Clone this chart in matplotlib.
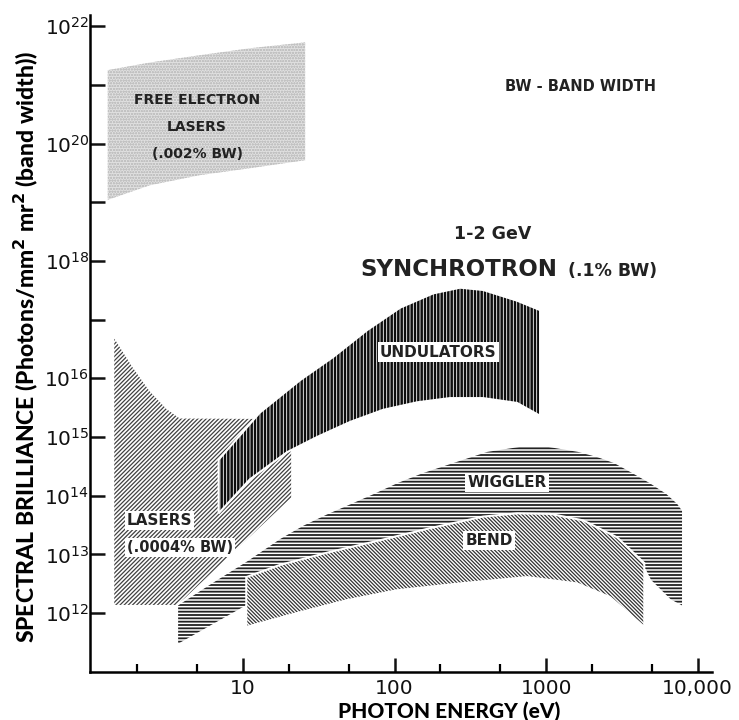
import numpy as np
import matplotlib
matplotlib.use("Agg")
import matplotlib.pyplot as plt
from matplotlib.patches import Polygon
from matplotlib.ticker import FixedLocator, FixedFormatter, NullFormatter

# ---- data: photon energy (eV) / spectral brilliance ----
fel_top_e = [1.28, 2.43, 5.2, 11.1, 25.7]
fel_top_b = [1.78e21, 2.4e21, 3.2e21, 4.2e21, 5.3e21]
fel_bot_e = [1.28, 2.43, 5.2, 11.1, 25.7]
fel_bot_b = [1.1e19, 1.95e19, 2.9e19, 3.8e19, 5.2e19]

las_top_e = [1.39, 1.88, 2.43, 3.15, 3.84, 21.1]
las_top_b = [5.5e16, 1.6e16, 6.3e15, 3.1e15, 2.15e15, 2.1e15]
las_bot_e = [1.39, 3.72, 21.1]
las_bot_b = [1.32e12, 1.32e12, 9.1e13]

und_top_e = [6.9, 12.9, 23.8, 39.3, 65.8, 109, 180, 271, 384, 644, 913]
und_top_b = [4.1e14, 2.6e15, 9.3e15, 2.3e16, 6.6e16, 1.6e17, 2.8e17, 3.5e17, 3.2e17, 2.1e17, 1.45e17]
und_bot_e = [6.9, 11.1, 19.5, 30.8, 50.8, 84, 141, 232, 384, 644, 913]
und_bot_b = [5.0e13, 1.9e14, 5.5e14, 1.0e15, 1.8e15, 2.9e15, 3.9e15, 4.6e15, 4.6e15, 3.8e15, 2.3e15]

wig_top_e = [3.67, 6.06, 10.6, 17.5, 24.9, 35.8, 50.8, 72.1, 104, 152, 240, 408, 705, 985,
             1630, 2200, 2850, 3750, 4860, 6290, 7430, 8020]
wig_top_b = [1.38e12, 3.2e12, 7.9e12, 1.9e13, 3.2e13, 5.0e13, 7.4e13, 1.1e14, 1.7e14, 2.5e14,
             3.7e14, 5.8e14, 7.2e14, 7.2e14, 5.8e14, 4.7e14, 3.7e14, 2.5e14, 1.7e14, 1.1e14,
             7.4e13, 5.6e13]
wig_bot_e = [3.67, 10.6, 23.8, 232, 2270, 4500, 4860, 6580, 8020]
wig_bot_b = [2.8e11, 1.32e12, 2.45e12, 5.4e12, 6.6e12, 5.4e12, 3.6e12, 1.66e12, 1.26e12]

bend_top_e = [10.5, 17.5, 37.5, 80.2, 172, 384, 644, 1063, 1755, 2940, 4450]
bend_top_b = [4.1e12, 6.6e12, 1.1e13, 1.74e13, 2.8e13, 4.4e13, 5.0e13, 4.9e13, 3.8e13, 1.95e13, 7.1e12]
bend_bot_e = [10.5, 22.7, 48.6, 104, 271, 749, 1600, 2650, 4450]
bend_bot_b = [5.8e11, 1.0e12, 1.66e12, 2.45e12, 3.2e12, 4.1e12, 3.2e12, 1.86e12, 5.8e11]

x_major = [10, 100, 1000, 10000]
x_major_labels = ["10", "100", "1000", "10,000"]
x_minor = [2, 5, 20, 50, 200, 500, 2000, 5000]
y_ticks = [1e12, 1e13, 1e14, 1e15, 1e16, 1e17, 1e18, 1e19, 1e20, 1e21, 1e22]
y_labels = [r"$10^{12}$", r"$10^{13}$", r"$10^{14}$", r"$10^{15}$", r"$10^{16}$", "",
            r"$10^{18}$", "", r"$10^{20}$", "", r"$10^{22}$"]

# ---- figure ----
plt.rcParams["mathtext.fontset"] = "dejavusans"
fig = plt.figure(figsize=(7.39, 7.2), dpi=100)
ax = fig.add_axes([90 / 739, 48 / 720, 622 / 739, 657 / 720])
ax.set_xscale("log")
ax.set_yscale("log")
ax.set_xlim(0.977, 12450)
ax.set_ylim(9.9e10, 1.55e22)


def region(top_e, top_b, bot_e, bot_b, hatch, color, hlw, face="white", z=1, outline=True):
    pts = list(zip(top_e, top_b)) + list(zip(bot_e, bot_b))[::-1]
    plt.rcParams["hatch.linewidth"] = hlw
    p = Polygon(pts, closed=True, facecolor=face, edgecolor=color, hatch=hatch,
                linewidth=0, zorder=z)
    if hasattr(p, "set_hatch_linewidth"):
        p.set_hatch_linewidth(hlw)
    ax.add_patch(p)
    if outline:
        ax.add_patch(Polygon(pts, closed=True, facecolor="none", edgecolor="white",
                             linewidth=1.5, zorder=z + 0.1))
    return p


region(fel_top_e, fel_top_b, fel_bot_e, fel_bot_b, "oooooo", "#c2c2c2", 0.6,
       face="#e0e0e0", z=1, outline=False)
region(las_top_e, las_top_b, las_bot_e, las_bot_b, "/" * 8, "#404040", 0.9, z=2)
region(und_top_e, und_top_b, und_bot_e, und_bot_b, "|" * 5, "#0d0d0d", 1.8, z=3)
region(wig_top_e, wig_top_b, wig_bot_e, wig_bot_b, "-" * 5, "#222222", 1.3, z=4)
region(bend_top_e, bend_top_b, bend_bot_e, bend_bot_b, "\\" * 9, "#333333", 0.9, z=5)

# ---- axes styling ----
for s in ["top", "right"]:
    ax.spines[s].set_visible(False)
for s in ["left", "bottom"]:
    ax.spines[s].set_linewidth(1.8)
    ax.spines[s].set_zorder(10)

ax.xaxis.set_major_locator(FixedLocator(x_major))
ax.xaxis.set_major_formatter(FixedFormatter(x_major_labels))
ax.xaxis.set_minor_locator(FixedLocator(x_minor))
ax.xaxis.set_minor_formatter(NullFormatter())
ax.yaxis.set_major_locator(FixedLocator(y_ticks))
ax.yaxis.set_major_formatter(FixedFormatter(y_labels))
ax.yaxis.set_minor_locator(FixedLocator([]))

ax.tick_params(axis="x", which="major", direction="in", length=10, width=1.8,
               labelsize=14.5, pad=5, colors="#111111")
ax.tick_params(axis="x", which="minor", direction="in", length=6, width=1.6)
ax.tick_params(axis="y", which="major", direction="in", length=11, width=1.8,
               labelsize=14.5, pad=0.5, colors="#111111")

# ---- axis labels ----
fig.text(449 / 739, 9 / 720, "PHOTON ENERGY (eV)", ha="center", va="center",
         fontsize=15, fontweight="black", family=["Lato", "DejaVu Sans"])
fig.text(26 / 739, 373 / 720,
         r"SPECTRAL BRILLIANCE (Photons/mm$^{\mathbf{2}}$ mr$^{\mathbf{2}}$ (band width))",
         rotation=90, ha="center", va="center", fontsize=16.5, fontweight="black",
         family=["Lato", "DejaVu Sans"])

# ---- annotations ----
txt = dict(fontweight="bold", color="#222222", zorder=20)
box = dict(facecolor="white", edgecolor="none", pad=1.5)
ax.text(4.97, 5.5e20, "FREE ELECTRON", ha="center", va="center", fontsize=10, **txt)
ax.text(4.97, 1.9e20, "LASERS", ha="center", va="center", fontsize=10, **txt)
ax.text(4.97, 6.6e19, "(.002% BW)", ha="center", va="center", fontsize=10, **txt)
ax.text(1700, 9.5e20, "BW - BAND WIDTH", ha="center", va="center", fontsize=10.5, **txt)
ax.text(447, 2.9e18, "1-2 GeV", ha="center", va="center", fontsize=12.5, **txt)
ax.text(59.2, 5.5e17, "SYNCHROTRON", ha="left", va="baseline", fontsize=16.5, **txt)
ax.text(1397, 5.5e17, "(.1% BW)", ha="left", va="baseline", fontsize=12.5, **txt)
ax.text(194, 2.8e16, "UNDULATORS", ha="center", va="center", fontsize=11, bbox=box, **txt)
ax.text(553, 1.7e14, "WIGGLER", ha="center", va="center", fontsize=11, bbox=box, **txt)
ax.text(421, 1.74e13, "BEND", ha="center", va="center", fontsize=11, bbox=box, **txt)
ax.text(1.71, 3.8e13, "LASERS", ha="left", va="center", fontsize=11, bbox=box, **txt)
ax.text(1.71, 1.3e13, "(.0004% BW)", ha="left", va="center", fontsize=10.5, bbox=box, **txt)

fig.savefig("out.png", dpi=100)
